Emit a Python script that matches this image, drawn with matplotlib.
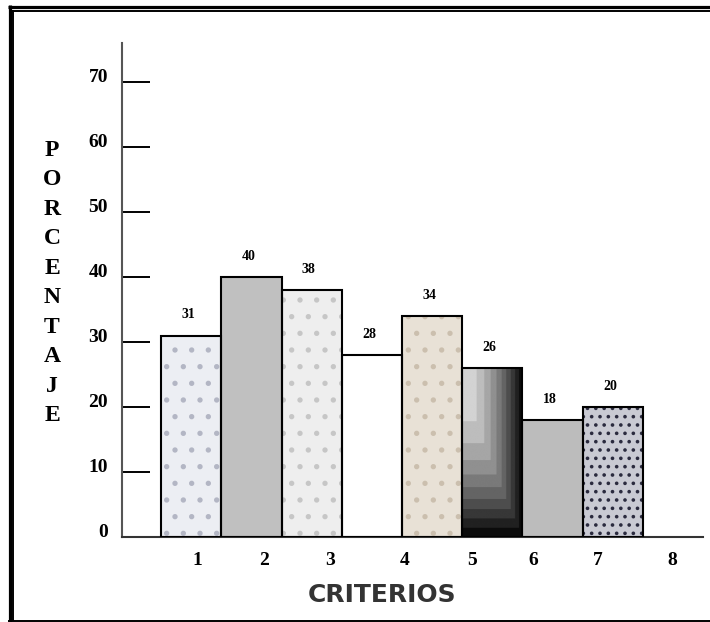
import numpy as np
import matplotlib.pyplot as plt
from matplotlib.lines import Line2D
from matplotlib.transforms import ScaledTranslation

# data
criterios = ['1', '2', '3', '4', '5', '6', '7', '8']
porcentaje = [31, 40, 38, 28, 34, 26, 18, 20]
y_ticks = [0, 10, 20, 30, 40, 50, 60, 70]

# in the original the category numbers drift right of the bars
label_pos = [0.1, 1.21, 2.31, 3.55, 4.67, 5.68, 6.76, 7.99]

# fill of each bar: (face colour, hatch, hatch colour)
fills = [('#eceef3', '.', '#b3b6c4'),
         ('#c0c0c0', None, None),
         ('#eeeeee', '.', '#c6c6c6'),
         ('#ffffff', None, None),
         ('#e8e1d6', '.', '#cbbfae'),
         ('#d8d8d8', None, None),   # gradient drawn on top
         ('#bcbcbc', None, None),
         ('#c9cad3', '..', '#2a2a3e')]

serif = 'Liberation Serif'
plt.rcParams['hatch.linewidth'] = 1.4

fig = plt.figure(figsize=(7.1, 6.22), dpi=100)
ax = fig.add_axes([122 / 710, 1 - 537 / 622, 581 / 710, 494 / 622])

x = np.arange(len(porcentaje))
bars = ax.bar(x, porcentaje, width=1.0, color=[f[0] for f in fills],
              linewidth=0, zorder=2)

# hatch overlays for the speckled bars
for b, (_, h, hc) in zip(bars, fills):
    if h:
        ax.bar(b.get_x() + 0.5, b.get_height(), width=1.0, facecolor='none',
               edgecolor=hc, hatch=h, linewidth=0, zorder=3)

# bar 5: stepped grey gradient, light top-left to black bottom-right
b = bars[5]
u = np.linspace(0, 1, 200)
U, V = np.meshgrid(u, u)
G = np.floor(np.maximum(U ** 1.6, V ** 2.0) * 10) / 10
im = ax.imshow(G, extent=(b.get_x(), b.get_x() + 1, 0, b.get_height()),
               cmap='gray_r', vmin=-0.2, vmax=0.95, aspect='auto',
               origin='upper', zorder=3)
im.set_clip_path(b)

# outlines
ax.bar(x, porcentaje, width=1.0, fill=False, edgecolor='black',
       linewidth=1.5, zorder=4)

for xi, v in zip(x, porcentaje):
    ax.annotate(str(v), (xi, v), xytext=(-2, 15), textcoords='offset points',
                ha='center', va='center', fontsize=10, fontweight='bold',
                family=serif)

ax.set_xlim(-1.15, 8.5)
ax.set_ylim(0, 76)
ax.set_xticks(label_pos)
ax.set_xticklabels(criterios, fontsize=14, fontweight='bold', family=serif)
ax.tick_params(axis='x', length=0, pad=11)

ax.set_yticks(y_ticks)
ax.set_yticklabels([str(t) for t in y_ticks], fontsize=14,
                   fontweight='bold', family=serif)
ax.tick_params(axis='y', direction='in', length=20, width=1.4,
               color='black', pad=10)
shift = ScaledTranslation(0, 5 / 72, fig.dpi_scale_trans)
for lab in ax.get_yticklabels():
    lab.set_transform(lab.get_transform() + shift)

for s in ['top', 'right']:
    ax.spines[s].set_visible(False)
ax.spines['left'].set_color('#555555')
ax.spines['left'].set_linewidth(1.5)
ax.spines['bottom'].set_color('#333333')
ax.spines['bottom'].set_linewidth(1.5)
ax.patch.set_alpha(0)

fig.text(52 / 710, 1 - 283 / 622, '\n'.join('PORCENTAJE'), ha='center',
         va='center', fontsize=17, fontweight='bold', family=serif,
         linespacing=1.53)
fig.text(382 / 710, 1 - 595 / 622, 'CRITERIOS', ha='center', va='center',
         fontsize=18, fontweight='bold', color='#333333')

# double frame round the picture (left, top), single line at the bottom
def px_line(xs, ys, lw):
    fig.add_artist(Line2D([p / 710 for p in xs], [1 - p / 622 for p in ys],
                          transform=fig.transFigure, color='black', lw=lw,
                          solid_capstyle='butt'))

px_line([9.5, 9.5], [5, 622], 2.3)
px_line([8, 710], [6.5, 6.5], 2.3)
px_line([13, 13], [9.5, 621], 1.4)
px_line([12, 710], [10.5, 10.5], 1.4)
px_line([8, 710], [620.5, 620.5], 1.4)

fig.savefig('out.png', dpi=100)
